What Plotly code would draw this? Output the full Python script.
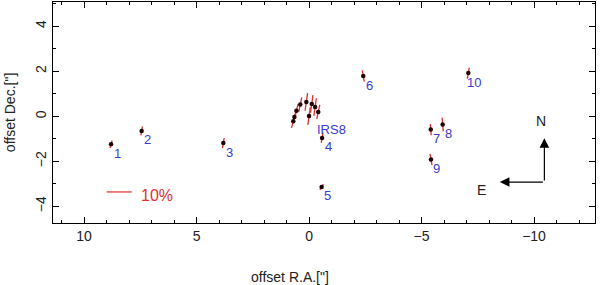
import numpy as np
import plotly.graph_objects as go

# Source data: offsets (arcsec), polarization degree (%), position angle (deg)
labels = ["1", "2", "3", "", "", "", "", "", "", "", "", "", "4", "5", "6", "7", "8", "9", "10"]
ra = [8.8, 7.44, 3.81, 0.70, 0.65, 0.56, 0.39, 0.12, -0.12, -0.27, -0.41, 0.0,
      -0.58, -0.56, -2.41, -5.41, -5.94, -5.42, -7.08]
dec = [-1.24, -0.65, -1.19, -0.22, -0.03, 0.25, 0.52, 0.64, 0.55, 0.41, 0.19, 0.01,
       -0.96, -3.14, 1.79, -0.59, -0.36, -1.92, 1.92]
pol = [3.1, 3.6, 4.0, 5.4, 5.4, 5.4, 5.8, 7.1, 7.1, 7.1, 5.8, 7.1,
       4.0, 2.7, 4.5, 4.5, 5.4, 4.5, 4.5]
pa = [-15, -10, -10, -15, -15, -13, -12, -8, -8, -8, -12, -8,
      -10, -30, 10, 5, 5, 10, -10]

scale_pct = 10.0          # reference bar
scale_len = 1.12          # arcsec per 10 %
bar_start = 9.0
bar_dec = -3.36

xt_vals = [10, 5, 0, -5, -10]
yt_vals = [-4, -2, 0, 2, 4]

RED = "#e03030"
BLUE = "#3a3ad0"
FONT = "Liberation Sans"

fig = go.Figure()

# polarization vectors
vx, vy = [], []
for x, y, p, a in zip(ra, dec, pol, pa):
    L = p / scale_pct * scale_len
    dx = 0.5 * L * np.sin(np.radians(a))
    dy = 0.5 * L * np.cos(np.radians(a))
    vx += [x - dx, x + dx, None]
    vy += [y - dy, y + dy, None]
fig.add_trace(go.Scatter(x=vx, y=vy, mode="lines", line=dict(color=RED, width=1.3),
                         hoverinfo="skip", showlegend=False))
fig.add_trace(go.Scatter(x=ra, y=dec, mode="markers",
                         marker=dict(color="#200000", size=4.5), showlegend=False))

# scale bar
fig.add_trace(go.Scatter(x=[bar_start, bar_start - scale_len], y=[bar_dec, bar_dec],
                         mode="lines", line=dict(color=RED, width=1.2), showlegend=False))

annotations = []
for x, y, t in zip(ra, dec, labels):
    if t:
        annotations.append(dict(x=x, y=y, text=t, showarrow=False, xshift=6, yshift=-9,
                                font=dict(family=FONT, size=13, color=BLUE)))
annotations.append(dict(x=-1.02, y=-0.58, text="IRS8", showarrow=False,
                        font=dict(family=FONT, size=13, color=BLUE)))
annotations.append(dict(x=bar_start - scale_len - 0.3, y=bar_dec - 0.15, text="10%",
                        showarrow=False, xanchor="left",
                        font=dict(family=FONT, size=16, color=RED)))
# compass
cx, cy = -10.46, -2.92
annotations.append(dict(x=cx, y=cy + 1.95, ax=cx, ay=cy, xref="x", yref="y", axref="x", ayref="y",
                        showarrow=True, arrowhead=2, arrowsize=1.6, arrowwidth=1.2,
                        arrowcolor="black", text=""))
annotations.append(dict(x=cx + 1.98, y=cy, ax=cx, ay=cy, xref="x", yref="y", axref="x", ayref="y",
                        showarrow=True, arrowhead=2, arrowsize=1.6, arrowwidth=1.2,
                        arrowcolor="black", text=""))
annotations.append(dict(x=-10.3, y=-0.2, text="N", showarrow=False,
                        font=dict(family=FONT, size=14, color="#222")))
annotations.append(dict(x=-7.68, y=-3.26, text="E", showarrow=False,
                        font=dict(family=FONT, size=14, color="#222")))
# axis titles
annotations.append(dict(x=0.437, y=-0.2, xref="paper", yref="paper", yanchor="top",
                        text='offset R.A.["]', showarrow=False,
                        font=dict(family=FONT, size=14, color="#222")))
annotations.append(dict(x=-0.08, y=0.5, xref="paper", yref="paper",
                        text='offset Dec.["]', showarrow=False, textangle=-90,
                        xanchor="center",
                        font=dict(family=FONT, size=14, color="#222")))

axis_common = dict(showgrid=False, zeroline=False, showline=True, linecolor="black",
                   linewidth=1, mirror="allticks", ticks="inside", ticklen=6,
                   tickcolor="black", tickwidth=1,
                   tickfont=dict(family=FONT, size=14, color="#222"),
                   minor=dict(ticks="inside", ticklen=3, tickcolor="black", dtick=1))

fig.update_layout(
    width=600, height=285,
    margin=dict(l=53, r=5, t=2, b=62),
    plot_bgcolor="white", paper_bgcolor="white",
    xaxis=dict(range=[11.38, -12.71], tickvals=xt_vals,
               ticktext=[("\u2212" + str(-v)) if v < 0 else str(v) for v in xt_vals],
               **axis_common),
    yaxis=dict(range=[-4.74, 5.08], tickvals=yt_vals,
               ticktext=[("\u2212" + str(-v)) if v < 0 else str(v) for v in yt_vals],
               tickangle=-90, **axis_common),
    annotations=annotations,
    showlegend=False,
)

fig.write_html("out.html", config={"displayModeBar": False},
               post_script="document.body.style.margin='0';document.body.style.overflow='hidden';")
